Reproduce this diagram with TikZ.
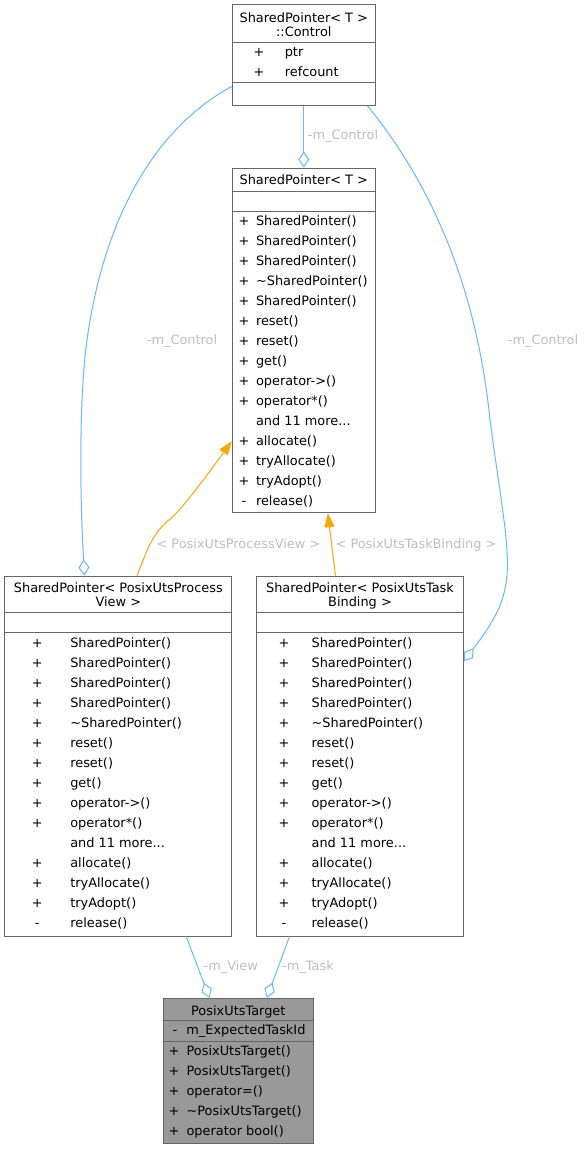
\documentclass[tikz,border=0pt]{standalone}
\usepackage{fontspec}
\setmainfont{DejaVu Sans}
\usetikzlibrary{arrows.meta,calc}
\definecolor{edgeblue}{HTML}{63B8FF}
\definecolor{inhorange}{HTML}{FFA500}
\definecolor{lblgray}{HTML}{BEBEBE}
\definecolor{boxborder}{HTML}{666666}
\definecolor{hifill}{HTML}{999999}
\newcommand\tdots{...}
\newcommand\memberrows[5]{%
  \foreach [count=\k from 0] \s/\t in {#5} {
    \node[sgn] (#1s\k) at (#2, #4+20*\k) {\s};
    \node[txt] (#1t\k) at (#3, #4+20*\k) {\t};
  }}
\begin{document}
\begin{tikzpicture}[x=1bp,y=-1bp,
  font=\fontsize{12.9bp}{15bp}\selectfont,
  box/.style={draw=boxborder, line width=1bp, fill=white, inner sep=0, rectangle},
  txt/.style={inner sep=0, anchor=base west},
  sgn/.style={inner sep=0, anchor=base},
  ttl/.style={inner sep=0, anchor=base},
  lbl/.style={inner sep=0, anchor=base west, text=lblgray},
  agg/.style={draw=edgeblue, line width=1bp, -{Diamond[open, length=16bp, width=11bp]}},
  inh/.style={draw=inhorange, line width=1bp, -{Triangle[length=14bp, width=10bp]}},
  sep/.style={draw=boxborder, line width=1bp}
]
\useasboundingbox (0,0) rectangle (587,1149);

% boxes
\node[box, minimum width=143bp, minimum height=100.6bp] (ctrl) at (303.8,55) {};
\node[box, minimum width=143bp, minimum height=344.7bp] (spt) at (303.8,340.35) {};
\node[box, minimum width=226.7bp, minimum height=360bp] (lv) at (118.35,756) {};
\node[box, minimum width=206.6bp, minimum height=360bp] (rv) at (360,756) {};
\node[box, fill=hifill, minimum width=150bp, minimum height=145bp] (tgt) at (238.3,1070.8) {};

% separators
\draw[sep] ($(ctrl.north west)+(0,38.3)$) -- ($(ctrl.north east)+(0,38.3)$);
\draw[sep] ($(ctrl.north west)+(0,78.6)$) -- ($(ctrl.north east)+(0,78.6)$);
\draw[sep] ($(spt.north west)+(0,23.7)$) -- ($(spt.north east)+(0,23.7)$);
\draw[sep] ($(spt.north west)+(0,43.7)$) -- ($(spt.north east)+(0,43.7)$);
\draw[sep] ($(lv.north west)+(0,37.3)$) -- ($(lv.north east)+(0,37.3)$);
\draw[sep] ($(lv.north west)+(0,57.3)$) -- ($(lv.north east)+(0,57.3)$);
\draw[sep] ($(rv.north west)+(0,37.3)$) -- ($(rv.north east)+(0,37.3)$);
\draw[sep] ($(rv.north west)+(0,57.3)$) -- ($(rv.north east)+(0,57.3)$);
\draw[sep] ($(tgt.north west)+(0,22.7)$) -- ($(tgt.north east)+(0,22.7)$);
\draw[sep] ($(tgt.north west)+(0,44)$) -- ($(tgt.north east)+(0,44)$);

% Control box text
\node[ttl] (ctrlT1) at (303.8,22.7) {SharedPointer< T >};
\node[ttl] (ctrlT2) at (303.8,36.7) {::Control};
\memberrows{ctrl}{259}{284.6}{56.7}{+/ptr, +/refcount}

% SharedPointer<T>
\node[ttl] (sptT) at (303.8,184.7) {SharedPointer< T >};
\memberrows{spt}{244}{255.8}{225.7}{+/SharedPointer(), +/SharedPointer(), +/SharedPointer(), +/\textasciitilde SharedPointer(), +/SharedPointer(), +/reset(), +/reset(), +/get(), +/operator->(), +/operator*(), {}/and 11 more\tdots, +/allocate(), +/tryAllocate(), +/tryAdopt(), -/release()}

% SharedPointer<PosixUtsProcessView>
\node[ttl] (lvT1) at (118.35,592.3) {SharedPointer< PosixUtsProcess};
\node[ttl] (lvT2) at (118.35,606.7) {View >};
\memberrows{lv}{37.3}{70.1}{647}{+/SharedPointer(), +/SharedPointer(), +/SharedPointer(), +/SharedPointer(), +/\textasciitilde SharedPointer(), +/reset(), +/reset(), +/get(), +/operator->(), +/operator*(), {}/and 11 more\tdots, +/allocate(), +/tryAllocate(), +/tryAdopt(), -/release()}

% SharedPointer<PosixUtsTaskBinding>
\node[ttl] (rvT1) at (360,592.3) {SharedPointer< PosixUtsTask};
\node[ttl] (rvT2) at (360,606.7) {Binding >};
\memberrows{rv}{284}{311.4}{647}{+/SharedPointer(), +/SharedPointer(), +/SharedPointer(), +/SharedPointer(), +/\textasciitilde SharedPointer(), +/reset(), +/reset(), +/get(), +/operator->(), +/operator*(), {}/and 11 more\tdots, +/allocate(), +/tryAllocate(), +/tryAdopt(), -/release()}

% PosixUtsTarget
\node[ttl] (tgtT) at (238.3,1015.3) {PosixUtsTarget};
\memberrows{tgta}{175}{186.2}{1034.7}{-/m\_ExpectedTaskId}
\memberrows{tgtm}{174}{186.4}{1055.4}{+/PosixUtsTarget(), +/PosixUtsTarget(), +/operator=(), +/\textasciitilde PosixUtsTarget(), +/operator bool()}

% edges
\draw[agg] (ctrl.south) -- (spt.north);
\node[lbl] (l1) at (307.7,139.3) {-m\_Control};

\draw[agg] ($(ctrl.north west)+(0,82.3)$) .. controls (160,125) and (105,210) .. (87,340)
  .. controls (78.7,400) and (80,500) .. ($(lv.north west)+(80,0)$);
\node[lbl] (l2) at (146.7,344.3) {-m\_Control};

\draw[agg] ($(ctrl.south west)+(135.7,0)$) .. controls (420,170) and (475,270) .. (490,420)
  .. controls (510,570) and (522,585) .. ($(rv.north east)+(0,85.7)$);
\node[lbl] (l3) at (507.7,344.3) {-m\_Control};

\draw[inh] ($(lv.north west)+(132.5,0)$) .. controls (148,548) and (152,534) .. (170,519)
  .. controls (180,511) and (200,485) .. ($(spt.north west)+(0,273.7)$);
\node[lbl] (l4) at (156.4,548.3) {< PosixUtsProcessView >};

\draw[inh] ($(rv.north west)+(79.3,0)$) -- ($(spt.south west)+(96,0)$);
\node[lbl] (l5) at (335.4,548.3) {< PosixUtsTaskBinding >};

\draw[agg] ($(lv.south west)+(181.7,0)$) -- ($(tgt.north west)+(46.7,0)$);
\node[lbl] (l6) at (203.4,970.7) {-m\_View};
\draw[agg] ($(rv.south west)+(33.3,0)$) -- ($(tgt.north west)+(104,0)$);
\node[lbl] (l7) at (282.1,970.7) {-m\_Task};
\end{tikzpicture}
\end{document}
